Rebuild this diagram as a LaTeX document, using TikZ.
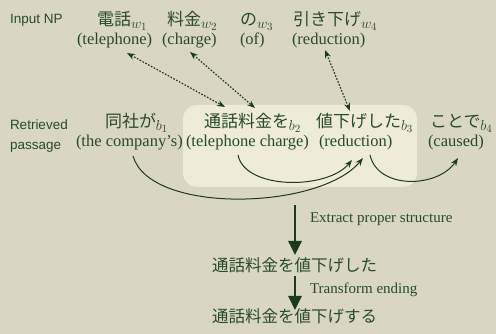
\documentclass[tikz,border=0pt]{standalone}
\usepackage{fontspec}
\setmainfont{Liberation Serif}
\setsansfont{Liberation Sans}
\newfontfamily\jp{Noto Sans CJK JP}
\usetikzlibrary{arrows.meta}
\definecolor{bg}{HTML}{D9D7BF}
\definecolor{boxc}{HTML}{EEECD7}
\definecolor{ink}{HTML}{2A4A2A}
\definecolor{arr}{HTML}{1E3A1E}
\newcommand{\sbx}[2]{\raisebox{-2.5pt}{\normalfont\fontsize{15}{18}\selectfont$#1_{#2}$}}
\begin{document}
\begin{tikzpicture}[x=1pt,y=1pt,
  every node/.style={inner sep=0pt,outer sep=0pt,text=ink},
  jw/.style={anchor=base west,font=\jp\fontsize{17}{20}\selectfont},
  en/.style={anchor=base west,font=\fontsize{16.5}{19}\selectfont},
  lab/.style={anchor=base west,font=\sffamily\fontsize{13.5}{16}\selectfont},
  small/.style={anchor=base west,font=\fontsize{15}{18}\selectfont},
  res/.style={anchor=base west,font=\jp\fontsize{16.5}{19}\selectfont},
  link/.style={draw=arr,line width=1.2pt,dash pattern=on 1.6pt off 1.6pt,{Stealth[length=8pt,width=6pt]}-{Stealth[length=8pt,width=6pt]}},
  dep/.style={draw=arr,line width=1pt,-{Stealth[length=8pt,width=6pt]}},
  steparrow/.style={draw=arr,line width=2.6pt,-{Triangle[length=14pt,width=13pt]}}]
\useasboundingbox (0,-334) rectangle (496,0);
\fill[bg] (0,-334) rectangle (496,0);
\fill[boxc,rounded corners=14pt] (183,-187) rectangle (417,-105);
% labels
\node[lab] (inp) at (10,-24) {Input NP};
\node[lab] (ret) at (10,-130) {Retrieved};
\node[lab] (pas) at (10,-150) {passage};
% input NP
\node[jw] (w1) at (97,-26) {電話\sbx{w}{1}};
\node[en] (e1) at (77,-45) {(telephone)};
\node[jw] (w2) at (167,-26) {料金\sbx{w}{2}};
\node[en] (e2) at (162,-45) {(charge)};
\node[jw] (w3) at (240,-26) {の\sbx{w}{3}};
\node[en] (e3) at (240,-45) {(of)};
\node[jw] (w4) at (293,-26) {引き下げ\sbx{w}{4}};
\node[en] (e4) at (292,-45) {(reduction)};
% passage
\node[jw] (b1) at (105,-128) {同社が\sbx{b}{1}};
\node[en] (f1) at (76,-147) {(the company's)};
\node[jw] (b2) at (204,-128) {通話料金を\sbx{b}{2}};
\node[en] (f2) at (186,-147) {(telephone charge)};
\node[jw] (b3) at (316,-128) {値下げした\sbx{b}{3}};
\node[en] (f3) at (319,-147) {(reduction)};
\node[jw] (b4) at (430,-128) {ことで\sbx{b}{4}};
\node[en] (f4) at (428,-147) {(caused)};
% results
\node[res] (r1) at (212,-272) {通話料金を値下げした};
\node[res] (r2) at (212,-322) {通話料金を値下げする};
\node[small] (l1) at (310,-223) {Extract proper structure};
\node[small] (l2) at (310,-294) {Transform ending};
% links
\draw[link] ([shift={(50,-8)}]e1.base west) -- ([shift={(21,21)}]b2.base west);
\draw[link] ([shift={(28,-7)}]e2.base west) -- ([shift={(51,20)}]b2.base west);
\draw[link] ([shift={(33,-5)}]e4.base west) -- ([shift={(34,17)}]b3.base west);
% dependencies
\draw[dep] ([shift={(57,-9)}]f1.base west) .. controls +(17,-59) and +(-43,-52) .. ([shift={(44,-11)}]f3.base west);
\draw[dep] ([shift={(52,-8)}]f2.base west) .. controls +(7,-35) and +(-25,-30) .. ([shift={(33,-13)}]f3.base west);
\draw[dep] ([shift={(51,-8)}]f3.base west) .. controls +(8,-35) and +(-20,-30) .. ([shift={(30,-11)}]f4.base west);
% steps
\coordinate (s1) at (295,-205);
\draw[steparrow] (s1) -- ([shift={(83,17)}]r1.base west);
\draw[steparrow] ([shift={(83,-4)}]r1.base west) -- ([shift={(83,12)}]r2.base west);
\end{tikzpicture}
\end{document}
